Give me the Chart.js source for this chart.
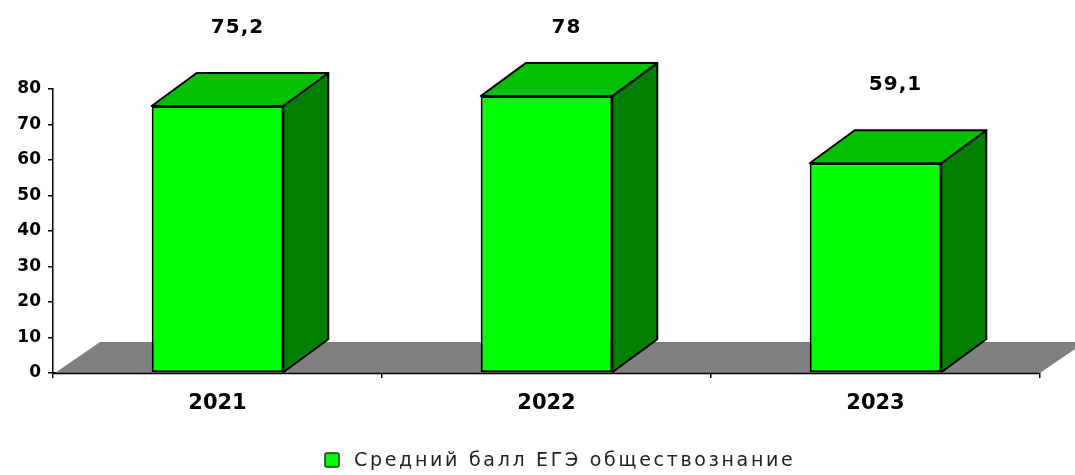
<!DOCTYPE html>
<html>
<head>
<meta charset="utf-8">
<script src="https://cdn.jsdelivr.net/npm/chart.js@4"></script>
<style>
html,body{margin:0;padding:0;background:#fff;}
#wrap{width:1075px;height:475px;position:relative;}
</style>
</head>
<body>
<div id="wrap"><canvas id="c" width="1075" height="475"></canvas></div>
<script>
const categories = ['2021', '2022', '2023'];
const seriesValues = [75.2, 78, 59.1];
const valueLabels = ['75,2', '78', '59,1'];
const seriesName = 'Средний балл ЕГЭ обществознание';
const yTicks = [0, 10, 20, 30, 40, 50, 60, 70, 80];

const DX = 45, DY = 33;
const FRONT = '#00ff00', TOP = '#00c000', SIDE = '#007f00', FLOOR = '#808080';

const bar3d = {
  id: 'bar3d',
  beforeDatasetsDraw(chart) {
    const ctx = chart.ctx, a = chart.chartArea;
    ctx.save();
    ctx.fillStyle = FLOOR;
    ctx.beginPath();
    ctx.moveTo(a.left + 2, a.bottom);
    ctx.lineTo(a.left + 2 + DX, a.bottom - DY + 2);
    ctx.lineTo(a.right + DX, a.bottom - DY + 2);
    ctx.lineTo(a.right, a.bottom);
    ctx.closePath();
    ctx.fill();
    ctx.strokeStyle = '#000';
    ctx.lineWidth = 1.5;
    ctx.beginPath();
    ctx.moveTo(a.left, a.bottom + 0.5);
    ctx.lineTo(a.right, a.bottom + 0.5);
    ctx.stroke();
    ctx.restore();
  },
  afterDatasetsDraw(chart) {
    const ctx = chart.ctx;
    const meta = chart.getDatasetMeta(0);
    ctx.save();
    ctx.lineWidth = 2;
    ctx.strokeStyle = '#000';
    ctx.lineJoin = 'round';
    meta.data.forEach((bar, i) => {
      const w = bar.width;
      const l = bar.x - w / 2, r = bar.x + w / 2, t = bar.y, b = bar.base;
      ctx.fillStyle = SIDE;
      ctx.beginPath();
      ctx.moveTo(r, t); ctx.lineTo(r + DX, t - DY); ctx.lineTo(r + DX, b - DY); ctx.lineTo(r, b);
      ctx.closePath(); ctx.fill(); ctx.stroke();
      ctx.fillStyle = TOP;
      ctx.beginPath();
      ctx.moveTo(l, t); ctx.lineTo(l + DX, t - DY); ctx.lineTo(r + DX, t - DY); ctx.lineTo(r, t);
      ctx.closePath(); ctx.fill(); ctx.stroke();
      ctx.fillStyle = '#000';
      ctx.font = 'bold 20px "DejaVu Sans"';
      ctx.letterSpacing = '1px';
      ctx.textAlign = 'center';
      ctx.textBaseline = 'middle';
      const ly = Math.max(t - DY - 45, 28);
      ctx.fillText(valueLabels[i], bar.x + 20, ly);
    });
    ctx.restore();
  },
  afterDraw(chart) {
    const ctx = chart.ctx;
    ctx.save();
    ctx.font = '19px "DejaVu Sans"';
    ctx.letterSpacing = '2.7px';
    const boxX = 325, boxY = 453, box = 14;
    ctx.fillStyle = FRONT;
    ctx.strokeStyle = '#1a3a1a';
    ctx.lineWidth = 1.5;
    ctx.beginPath();
    ctx.roundRect(boxX, boxY, box, box, 2);
    ctx.fill(); ctx.stroke();
    ctx.fillStyle = '#222';
    ctx.textAlign = 'left';
    ctx.textBaseline = 'middle';
    ctx.fillText(seriesName, boxX + 29, boxY + box / 2 + 1);
    ctx.restore();
  }
};

new Chart(document.getElementById('c'), {
  type: 'bar',
  data: {
    labels: categories,
    datasets: [{
      label: seriesName,
      data: seriesValues,
      backgroundColor: FRONT,
      borderColor: '#000',
      borderWidth: 2,
      borderSkipped: false,
      barPercentage: 0.4,
      categoryPercentage: 1.0
    }]
  },
  options: {
    responsive: false,
    animation: false,
    devicePixelRatio: 1,
    layout: { padding: { top: 89, right: 35, left: 0, bottom: 0 } },
    plugins: { legend: { display: false }, tooltip: { enabled: false } },
    scales: {
      y: {
        min: 0, max: 80,
        afterFit(s) { s.width = 53; },
        afterBuildTicks(s) { s.ticks = yTicks.map(v => ({ value: v })); },
        ticks: { color: '#000', font: { family: '"DejaVu Sans"', size: 17, weight: 'bold' }, padding: 7 },
        grid: { drawOnChartArea: false, drawTicks: true, tickLength: 5, color: '#000', lineWidth: 1.5 },
        border: { display: true, color: '#000', width: 1.5 }
      },
      x: {
        afterFit(s) { s.height = 102; },
        ticks: { color: '#000', font: { family: '"DejaVu Sans"', size: 21, weight: 'bold' }, padding: 13 },
        grid: { drawOnChartArea: false, drawTicks: true, tickLength: 5, color: '#000', lineWidth: 1.5, offset: true },
        border: { display: true, color: '#000', width: 1.5 }
      }
    }
  },
  plugins: [bar3d]
});
</script>
</body>
</html>
